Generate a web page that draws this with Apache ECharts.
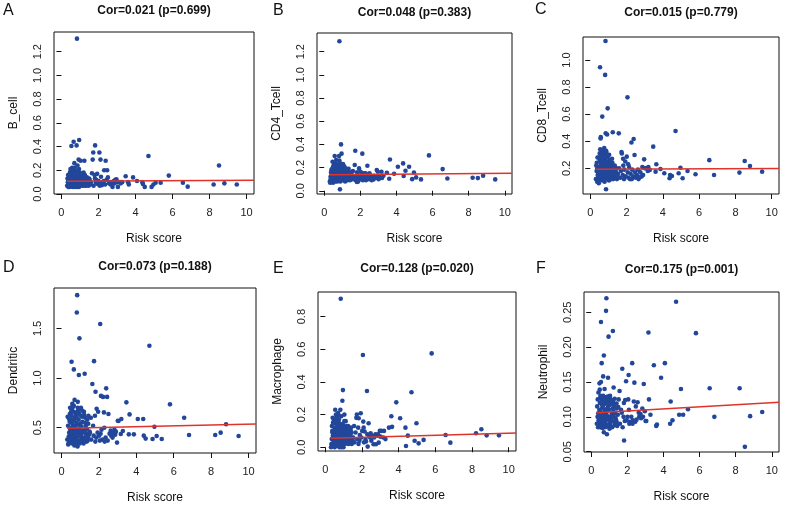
<!DOCTYPE html>
<html><head><meta charset="utf-8">
<script src="https://cdn.jsdelivr.net/npm/echarts@6/dist/echarts.min.js"></script>
<style>html,body{margin:0;padding:0;background:#fff}#c{width:790px;height:505px}</style>
</head><body><div id="c"></div>
<script>
// ---------- DATA ----------
const panelLetters = ["A","B","C","D","E","F"];
const cellTypes = ["B_cell","CD4_Tcell","CD8_Tcell","Dendritic","Macrophage","Neutrophil"];
const corTitles = ["Cor=0.021 (p=0.699)","Cor=0.048 (p=0.383)","Cor=0.015 (p=0.779)",
                   "Cor=0.073 (p=0.188)","Cor=0.128 (p=0.020)","Cor=0.175 (p=0.001)"];
const xTicks = [0,2,4,6,8,10];
const yTicksA = [0.0,0.2,0.4,0.6,0.8,1.0,1.2];
const yTicksB = [0.0,0.2,0.4,0.6,0.8,1.0,1.2];
const yTicksC = [0.2,0.4,0.6,0.8,1.0];
const yTicksD = [0.5,1.0,1.5];
const yTicksE = [0.0,0.2,0.4,0.6,0.8];
const yTicksF = [0.05,0.10,0.15,0.20,0.25];
const fitX = [0.3, 10.4];
const fitStartY = [0.108,0.137,0.193,0.494,0.055,0.106];
const fitEndY   = [0.116,0.150,0.199,0.537,0.088,0.121];

const riskScore = [
 0.84,0.54,0.66,0.82,0.96,0.93,1.04,0.70,1.24,0.58,0.87,1.20,
 0.31,0.35,0.38,0.33,0.41,0.36,0.44,0.39,0.47,0.42,
 0.45,0.50,0.48,0.53,0.51,0.56,0.49,0.55,0.59,0.52,
 0.57,0.61,0.54,0.63,0.60,0.67,0.62,0.65,0.69,0.64,
 0.71,0.68,0.74,0.72,0.77,0.75,0.73,0.79,0.76,0.81,
 0.78,0.83,0.80,0.86,0.85,0.88,0.82,0.91,0.89,0.94,
 0.92,0.97,0.95,0.99,1.01,0.98,1.03,1.06,1.02,1.08,
 1.05,1.10,1.13,1.07,1.15,1.12,1.18,1.16,1.21,1.19,
 1.23,1.26,1.22,1.29,1.27,1.32,1.30,1.35,1.33,1.38,
 1.41,1.36,1.44,1.40,1.47,1.43,1.50,0.46,0.58,0.66,
 0.74,0.87,0.95,1.04,0.40,0.52,0.62,0.70,0.84,1.11,
 1.52,1.57,1.59,1.65,1.69,1.72,1.74,1.79,1.82,1.86,
 1.88,1.93,1.96,2.01,2.05,2.07,2.11,2.14,2.19,2.22,
 2.27,2.31,2.36,2.39,2.44,2.47,2.51,2.57,2.63,2.66,
 2.73,2.76,2.83,2.87,2.91,2.97,3.01,2.09,1.81,2.29,
 3.05,3.17,3.20,3.28,3.47,3.60,3.64,3.87,4.08,4.37,4.40,4.50,
 4.70,4.87,4.97,5.09,5.36,5.80,6.56,6.82,8.22,8.51,8.80,9.47
];

const bCell = [
 1.31,0.405,0.44,0.41,0.455,0.29,0.28,0.26,0.28,0.22,0.24,0.18,
 0.07,0.10,0.06,0.13,0.08,0.16,0.11,0.07,0.14,0.09,
 0.06,0.12,0.18,0.08,0.15,0.10,0.21,0.07,0.13,0.09,
 0.11,0.06,0.17,0.09,0.20,0.12,0.07,0.15,0.10,0.19,
 0.08,0.14,0.06,0.22,0.11,0.09,0.17,0.07,0.13,0.10,
 0.16,0.08,0.12,0.06,0.19,0.10,0.14,0.07,0.11,0.15,
 0.09,0.13,0.06,0.18,0.10,0.08,0.12,0.15,0.07,0.11,
 0.13,0.08,0.16,0.10,0.07,0.12,0.09,0.14,0.08,0.11,
 0.10,0.07,0.13,0.09,0.16,0.08,0.12,0.10,0.07,0.14,
 0.09,0.12,0.08,0.11,0.07,0.10,0.13,0.18,0.20,0.16,
 0.19,0.17,0.21,0.16,0.12,0.14,0.18,0.11,0.19,0.17,
 0.12,0.08,0.10,0.175,0.29,0.35,0.07,0.16,0.41,0.095,
 0.12,0.17,0.085,0.11,0.35,0.07,0.29,0.146,0.075,0.10,
 0.095,0.20,0.08,0.28,0.12,0.20,0.14,0.09,0.10,0.08,
 0.10,0.06,0.11,0.09,0.12,0.125,0.10,0.09,0.13,0.11,
 0.06,0.10,0.09,0.10,0.15,0.10,0.08,0.14,0.11,0.10,0.085,0.06,
 0.32,0.06,0.08,0.095,0.095,0.155,0.095,0.062,0.08,0.24,0.09,0.08
];

const cd4Tcell = [
 1.29,0.22,0.265,0.30,0.32,0.40,0.20,0.22,0.19,0.30,0.012,0.17,
 0.08,0.12,0.16,0.07,0.14,0.10,0.19,0.09,0.13,0.17,
 0.11,0.21,0.08,0.15,0.12,0.18,0.07,0.14,0.22,0.10,
 0.16,0.09,0.13,0.20,0.11,0.15,0.08,0.18,0.12,0.14,
 0.10,0.17,0.13,0.08,0.21,0.12,0.15,0.10,0.19,0.11,
 0.14,0.09,0.18,0.12,0.16,0.10,0.22,0.13,0.08,0.17,
 0.12,0.15,0.09,0.19,0.11,0.14,0.17,0.10,0.13,0.16,
 0.09,0.18,0.12,0.15,0.10,0.20,0.13,0.08,0.16,0.11,
 0.14,0.11,0.17,0.09,0.13,0.16,0.10,0.19,0.12,0.15,
 0.11,0.14,0.16,0.10,0.13,0.09,0.12,0.25,0.24,0.23,
 0.20,0.24,0.21,0.23,0.18,0.20,0.22,0.18,0.26,0.21,
 0.14,0.10,0.17,0.12,0.222,0.345,0.09,0.13,0.16,0.11,
 0.08,0.193,0.12,0.164,0.10,0.13,0.32,0.09,0.15,0.11,
 0.13,0.09,0.12,0.216,0.14,0.10,0.15,0.12,0.09,0.11,
 0.098,0.13,0.11,0.12,0.178,0.164,0.10,0.15,0.075,0.15,
 0.12,0.164,0.11,0.13,0.155,0.104,0.27,0.147,0.207,0.236,0.127,0.173,
 0.207,0.10,0.158,0.115,0.098,0.305,0.187,0.106,0.112,0.109,0.13,0.098
];

const cd8Tcell = [
 1.14,0.946,0.582,0.89,0.643,0.45,0.30,0.33,0.466,0.43,0.045,0.27,
 0.12,0.18,0.10,0.22,0.15,0.24,0.13,0.20,0.09,0.17,
 0.14,0.21,0.11,0.26,0.16,0.19,0.12,0.34,0.23,0.15,
 0.42,0.13,0.20,0.17,0.29,0.11,0.25,0.33,0.14,0.22,
 0.18,0.31,0.12,0.21,0.35,0.16,0.27,0.10,0.24,0.19,
 0.30,0.14,0.23,0.17,0.458,0.20,0.26,0.13,0.32,0.15,
 0.21,0.12,0.28,0.18,0.14,0.24,0.11,0.20,0.16,0.23,
 0.13,0.19,0.15,0.26,0.12,0.22,0.17,0.14,0.21,0.16,
 0.18,0.12,0.24,0.15,0.20,0.13,0.17,0.22,0.14,0.19,
 0.16,0.21,0.13,0.18,0.12,0.20,0.15,0.28,0.25,0.30,
 0.27,0.33,0.29,0.25,0.28,0.31,0.22,0.26,0.30,0.24,
 0.16,0.458,0.20,0.13,0.18,0.32,0.31,0.15,0.22,0.12,
 0.19,0.25,0.14,0.286,0.724,0.17,0.13,0.21,0.12,0.16,
 0.39,0.19,0.14,0.416,0.298,0.17,0.13,0.15,0.19,0.12,
 0.133,0.17,0.14,0.21,0.15,0.266,0.20,0.23,0.27,0.12,
 0.20,0.18,0.21,0.188,0.36,0.175,0.23,0.195,0.163,0.126,0.15,0.143,
 0.476,0.163,0.204,0.126,0.18,0.156,0.26,0.15,0.168,0.254,0.217,0.175
];

const dendritic = [
 1.835,1.164,1.087,1.66,1.40,1.03,0.70,0.78,1.044,0.71,0.76,0.66,
 0.38,0.52,0.34,0.61,0.45,0.33,0.56,0.41,0.48,0.36,
 0.64,0.43,0.35,0.55,0.40,0.68,0.37,0.50,0.42,0.58,
 0.34,0.47,0.62,0.39,0.53,0.36,0.44,0.66,0.32,0.51,
 0.41,0.57,0.35,0.46,0.63,0.38,0.52,0.33,0.49,0.60,
 0.36,0.44,0.55,0.31,0.47,0.67,0.40,0.53,0.37,0.45,
 0.58,0.34,0.49,0.42,0.62,0.35,0.46,0.39,0.54,0.37,
 0.43,0.61,0.36,0.51,0.40,0.56,0.34,0.47,0.63,0.38,
 0.45,0.55,0.37,0.48,0.60,0.41,0.52,0.36,0.44,0.58,
 0.40,0.49,0.62,0.37,0.43,0.54,0.46,0.70,0.74,0.72,
 0.65,0.70,0.64,0.69,0.59,0.66,0.71,0.60,0.65,0.67,
 0.45,0.60,0.38,0.94,0.52,0.42,1.17,0.62,0.862,0.40,
 0.69,0.45,0.66,0.42,0.37,1.544,0.82,0.48,0.38,0.81,
 0.654,0.36,0.40,0.896,0.81,0.37,0.638,0.44,0.47,0.42,
 0.40,0.45,0.48,0.43,0.46,0.35,0.57,0.44,0.36,0.50,
 0.567,0.436,0.587,0.466,0.755,0.433,0.634,0.433,0.587,0.587,0.42,0.39,
 1.325,0.386,0.51,0.416,0.386,0.735,0.60,0.426,0.426,0.45,0.534,0.416
];

const macrophage = [
 0.91,0.23,0.16,0.23,0.35,0.285,0.20,0.20,0.13,0.15,0.00,0.12,
 0.00,0.05,0.10,0.02,0.07,0.13,0.04,0.09,0.01,0.15,
 0.06,0.11,0.03,0.08,0.00,0.12,0.05,0.17,0.02,0.09,
 0.04,0.14,0.07,0.01,0.10,0.05,0.19,0.03,0.08,0.12,
 0.02,0.09,0.15,0.06,0.00,0.11,0.04,0.08,0.13,0.03,
 0.10,0.01,0.06,0.14,0.04,0.09,0.02,0.07,0.12,0.05,
 0.08,0.03,0.11,0.00,0.06,0.13,0.02,0.09,0.05,0.10,
 0.04,0.12,0.07,0.02,0.10,0.05,0.08,0.13,0.03,0.06,
 0.09,0.02,0.06,0.11,0.04,0.08,0.12,0.03,0.07,0.10,
 0.05,0.08,0.02,0.12,0.06,0.09,0.04,0.16,0.20,0.18,
 0.17,0.19,0.14,0.16,0.18,0.15,0.17,0.21,0.14,0.16,
 0.06,0.13,0.03,0.09,0.18,0.20,0.05,0.12,0.178,0.04,
 0.075,0.208,0.06,0.10,0.565,0.157,0.03,0.096,0.05,0.035,
 0.345,0.004,0.147,0.07,0.06,0.086,0.04,0.07,0.018,0.06,
 0.08,0.018,0.07,0.08,0.028,0.10,0.065,0.12,0.02,0.08,
 0.10,0.06,0.10,0.05,0.12,0.19,0.125,0.275,0.178,0.12,0.008,0.071,
 0.337,0.04,0.147,0.024,0.045,0.575,0.075,0.028,0.086,0.11,0.073,0.073
];

const neutrophil = [
 0.27,0.236,0.158,0.252,0.215,0.156,0.13,0.188,0.142,0.177,0.075,0.223,
 0.090,0.100,0.085,0.115,0.095,0.125,0.088,0.105,0.139,0.092,
 0.110,0.085,0.120,0.097,0.130,0.088,0.108,0.094,0.118,0.102,
 0.087,0.113,0.150,0.093,0.127,0.099,0.084,0.116,0.105,0.091,
 0.122,0.096,0.109,0.086,0.128,0.101,0.092,0.119,0.085,0.111,
 0.098,0.126,0.090,0.107,0.086,0.120,0.095,0.129,0.101,0.088,
 0.114,0.089,0.123,0.097,0.083,0.110,0.129,0.093,0.117,0.100,
 0.091,0.120,0.104,0.087,0.124,0.096,0.112,0.085,0.118,0.102,
 0.108,0.093,0.121,0.088,0.115,0.099,0.126,0.090,0.105,0.095,
 0.112,0.097,0.087,0.119,0.103,0.091,0.114,0.148,0.125,0.130,
 0.140,0.128,0.120,0.125,0.135,0.128,0.126,0.078,0.128,0.122,
 0.125,0.137,0.09,0.11,0.106,0.169,0.085,0.10,0.066,0.094,
 0.124,0.151,0.095,0.10,0.125,0.16,0.09,0.093,0.092,0.10,
 0.177,0.095,0.122,0.149,0.093,0.115,0.096,0.121,0.106,0.10,
 0.104,0.098,0.112,0.10,0.147,0.108,0.094,0.11,0.12,0.09,
 0.094,0.221,0.125,0.103,0.174,0.087,0.089,0.156,0.177,0.09,0.122,0.095,
 0.265,0.103,0.14,0.103,0.111,0.22,0.141,0.10,0.141,0.057,0.101,0.107
];

// ---------- LAYOUT / STYLE ----------
const yValues = [bCell, cd4Tcell, cd8Tcell, dendritic, macrophage, neutrophil];
const yTicks = [yTicksA, yTicksB, yTicksC, yTicksD, yTicksE, yTicksF];
const yDecimals = [1,1,1,1,1,2];
const boxes = [
  {left:54,  top:32,  width:200, height:162, ymin:0.000,  ymax:1.366},
  {left:317, top:33,  width:195, height:161, ymin:-0.028, ymax:1.361},
  {left:583, top:37,  width:196, height:157, ymin:0.010,  ymax:1.170},
  {left:54,  top:288, width:202, height:165, ymin:0.245,  ymax:1.907},
  {left:318, top:292, width:198, height:159, ymin:-0.023, ymax:0.951},
  {left:584, top:292, width:195, height:160, ymin:0.0496, ymax:0.279}
];
const titleTops = [5,7,7,261,263,264];
const letterPos = [[3,3],[273,3],[535,2],[3,260],[273,261],[536,261]];
const FONT = "'Liberation Sans', Arial, sans-serif";
const dotColor = '#22479a';
const lineColor = '#e0332b';

const grid = [], xAxis = [], yAxis = [], series = [], title = [];
boxes.forEach((b, i) => {
  grid.push({left:b.left, top:b.top, width:b.width, height:b.height,
             show:true, borderColor:'#111', borderWidth:1, backgroundColor:'transparent'});
  xAxis.push({type:'value', gridIndex:i, min:-0.4, max:10.4,
    name:'Risk score', nameLocation:'middle', nameGap:39,
    nameTextStyle:{fontFamily:FONT, fontSize:12, color:'#111'},
    axisLine:{show:false}, splitLine:{show:false},
    axisTick:{show:true, length:5, lineStyle:{color:'#111'}, customValues:xTicks},
    axisLabel:{fontFamily:FONT, fontSize:11, color:'#222', margin:13, customValues:xTicks}
  });
  yAxis.push({type:'value', gridIndex:i, min:b.ymin, max:b.ymax,
    name:cellTypes[i], nameLocation:'middle', nameGap:34,
    nameTextStyle:{fontFamily:FONT, fontSize:12, color:'#111'},
    axisLine:{show:false}, splitLine:{show:false},
    axisTick:{show:true, length:5, lineStyle:{color:'#111'}, customValues:yTicks[i]},
    axisLabel:{fontFamily:FONT, fontSize:11, color:'#222', margin:11, rotate:90,
      customValues:yTicks[i], formatter:(v)=>Number(v).toFixed(yDecimals[i])}
  });
  series.push({type:'scatter', xAxisIndex:i, yAxisIndex:i, symbolSize:4.6,
    itemStyle:{color:dotColor, opacity:1},
    data: riskScore.map((x, k) => [x, yValues[i][k]]), z:2, silent:true});
  series.push({type:'line', xAxisIndex:i, yAxisIndex:i, showSymbol:false, symbol:'none',
    lineStyle:{color:lineColor, width:1.5}, data:[[fitX[0], fitStartY[i]],[fitX[1], fitEndY[i]]],
    z:3, silent:true, animation:false});
  title.push({text:corTitles[i], left:b.left + b.width/2, top:titleTops[i], textAlign:'center', padding:0,
    textStyle:{fontFamily:FONT, fontSize:12, fontWeight:'bold', color:'#111'}});
  title.push({text:panelLetters[i], left:letterPos[i][0], top:letterPos[i][1], padding:0,
    textStyle:{fontFamily:FONT, fontSize:16, fontWeight:'normal', color:'#111'}});
});

const chart = echarts.init(document.getElementById('c'), null, {renderer:'canvas'});
chart.setOption({animation:false, backgroundColor:'#fff', title, grid, xAxis, yAxis, series});
</script>
</body></html>
